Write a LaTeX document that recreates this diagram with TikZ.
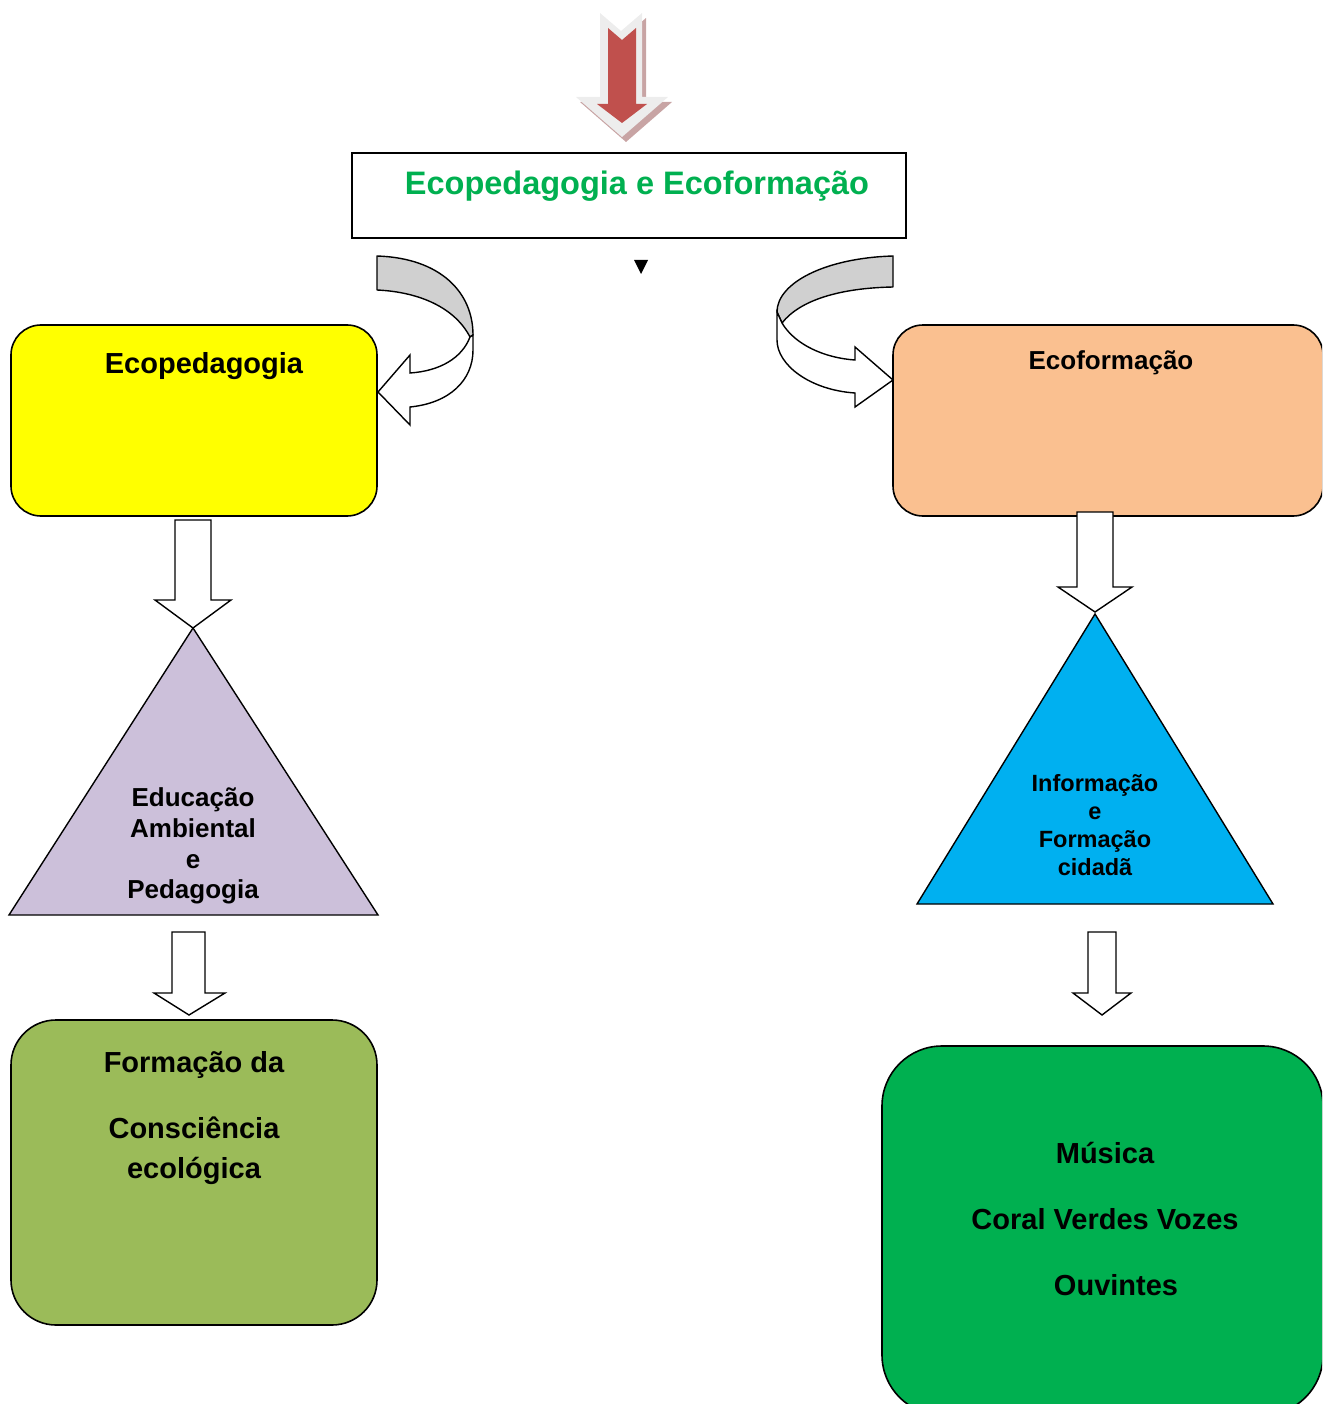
\documentclass[tikz,border=0pt]{standalone}
\usepackage{fontspec}
\setmainfont{Liberation Sans}
\definecolor{yel}{HTML}{FFFF00}
\definecolor{peach}{HTML}{FAC090}
\definecolor{lav}{HTML}{CCC0DA}
\definecolor{cyanb}{HTML}{00B0F0}
\definecolor{olive}{HTML}{9BBB59}
\definecolor{greenb}{HTML}{00B050}
\definecolor{redar}{HTML}{C0504D}
\definecolor{bandgray}{HTML}{D0D0D0}
\definecolor{shadowc}{HTML}{C8A4A4}
\begin{document}
\begin{tikzpicture}[x=1pt,y=-1pt,
  box/.style={draw=black, line width=1.6pt, inner sep=0pt},
  rbox/.style={box, rounded corners=#1},
  blockarr/.style={draw=black, line width=1.4pt, fill=white, line join=miter},
  tri/.style={draw=black, line width=1.4pt, line join=miter},
  txt/.style={anchor=base, inner sep=0pt, font=\bfseries\fontsize{#1}{#1}\selectfont, align=center}
]
\useasboundingbox (0,0) rectangle (1322,1404);
\clip (0,0) rectangle (1322,1404);

% top red arrow
\fill[shadowc] (604,18) -- (625,36) -- (646,18) -- (646,102) -- (672,102) -- (626,142) -- (580,102) -- (604,102) -- cycle;
\fill[white!93!black] (600,13) -- (621,31) -- (642,13) -- (642,97) -- (668,97) -- (622,137) -- (576,97) -- (600,97) -- cycle;
\fill[redar] (608,28) -- (622,40) -- (636,28) -- (636,104) -- (647,104) -- (622,123) -- (597,104) -- (608,104) -- cycle;

% title box
\node[box, fill=white, minimum width=554pt, minimum height=85pt] (title) at (629,195.5) {};
\node[txt=32.5, text=greenb] (titletxt) at (637,195) {Ecopedagogia e Ecoformação};

% small triangle
\fill[black] (634,260) -- (648,260) -- (641,274) -- cycle;

% left box
\node[rbox=30pt, fill=yel, minimum width=366pt, minimum height=191pt] (ecoped) at (194,420.5) {};
\node[txt=29] (ecopedtxt) at (204,373) {Ecopedagogia};

% right box
\node[rbox=30pt, fill=peach, minimum width=430pt, minimum height=191pt] (ecoform) at (1108,420.5) {};
\node[txt=26] (ecoformtxt) at (1111,369) {Ecoformação};

% left curved arrow
\filldraw[fill=bandgray, draw=black, line width=1.4pt, line join=round]
  (377,256) .. controls (440,258) and (473,292) .. (473,335)
  -- (470,337) .. controls (455,308) and (420,292) .. (377,290) -- cycle;
\filldraw[fill=white, draw=black, line width=1.4pt, line join=miter]
  (470,337) .. controls (462,358) and (440,371) .. (410,373)
  -- (410,355) -- (378,392) -- (410,425) -- (410,407)
  .. controls (450,403) and (473,380) .. (473,350) -- (473,335) -- cycle;

% right curved arrow
\filldraw[fill=bandgray, draw=black, line width=1.4pt, line join=round]
  (893,256) .. controls (825,258) and (777,283) .. (777,312)
  -- (782,323) .. controls (800,300) and (840,288) .. (893,287) -- cycle;
\filldraw[fill=white, draw=black, line width=1.4pt, line join=miter]
  (782,323) .. controls (795,345) and (825,358) .. (855,360)
  -- (855,347) -- (893,380) -- (855,407) -- (855,393)
  .. controls (810,390) and (777,365) .. (777,340) -- (777,312) -- cycle;

% left triangle
\coordinate (ltA) at (193,628);
\coordinate (ltB) at (9,915);
\coordinate (ltC) at (378,915);
\filldraw[tri, fill=lav] (ltA) -- (ltB) -- (ltC) -- cycle;
\node[txt=26] (lt1) at (193,806) {Educação};
\node[txt=26] (lt2) at (193,837) {Ambiental};
\node[txt=26] (lt3) at (193,868) {e};
\node[txt=26] (lt4) at (193,898) {Pedagogia};

% right triangle
\coordinate (rtA) at (1095,614);
\coordinate (rtB) at (917,904);
\coordinate (rtC) at (1273,904);
\filldraw[tri, fill=cyanb] (rtA) -- (rtB) -- (rtC) -- cycle;
\node[txt=23.5] (rt1) at (1095,791) {Informação};
\node[txt=23.5] (rt2) at (1095,819) {e};
\node[txt=23.5] (rt3) at (1095,847) {Formação};
\node[txt=23.5] (rt4) at (1095,875) {cidadã};

% block arrows
\draw[blockarr] (175,520) -- (211,520) -- (211,600) -- (231,600) -- (ltA) -- (155,600) -- (175,600) -- cycle;
\draw[blockarr] (1077,512) -- (1113,512) -- (1113,587) -- (1132,587) -- (1095,612) -- (1058,587) -- (1077,587) -- cycle;
\draw[blockarr] (172,932) -- (205,932) -- (205,993) -- (225,993) -- (189,1015) -- (154,993) -- (172,993) -- cycle;
\draw[blockarr] (1088,932) -- (1116,932) -- (1116,993) -- (1131,993) -- (1102,1015) -- (1073,993) -- (1088,993) -- cycle;

% lower left box
\node[rbox=45pt, fill=olive, minimum width=366pt, minimum height=305pt] (consc) at (194,1172.5) {};
\node[txt=29] (c1) at (194,1072) {Formação da};
\node[txt=29] (c2) at (194,1138) {Consciência};
\node[txt=29] (c3) at (194,1178) {ecológica};

% lower right box
\node[rbox=60pt, fill=greenb, minimum width=441pt, minimum height=369pt] (musica) at (1102.5,1230.5) {};
\node[txt=29] (m1) at (1105,1163) {Música};
\node[txt=29] (m2) at (1105,1229) {Coral Verdes Vozes};
\node[txt=29] (m3) at (1116,1295) {Ouvintes};
\end{tikzpicture}
\end{document}
